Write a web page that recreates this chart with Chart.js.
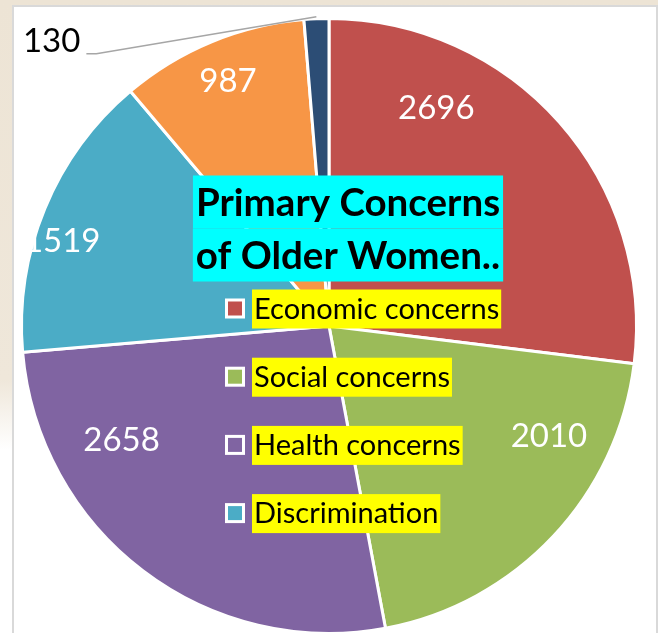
<!DOCTYPE html>
<html>
<head>
<meta charset="utf-8">
<script src="https://cdn.jsdelivr.net/npm/chart.js@4.4.0/dist/chart.umd.min.js"></script>
<style>
  html, body {
    margin: 0; padding: 0; width: 658px; height: 633px; overflow: hidden;
    background: linear-gradient(to bottom, #ede4d5 0px, #efe7da 380px, #ffffff 450px);
  }
  #frame {
    position: absolute; left: 12px; top: 5px; width: 646px; height: 700px;
    background: #fff; border: 2px solid #d9d9d9; box-sizing: border-box;
  }
  #chart { position: absolute; left: 0; top: 0; }
</style>
</head>
<body>
<div id="frame"></div>
<canvas id="chart" width="658" height="660"></canvas>
<script>
// pie data (slices go clockwise from 12 o'clock)
const categories = ['Economic concerns', 'Social concerns', 'Health concerns', 'Discrimination', 'Other concerns', 'Others'];
const values = [2696, 2010, 2658, 1519, 987, 130];
const colors = ['#C0504D', '#9BBB59', '#8064A2', '#4BACC6', '#F79646', '#2C4D75'];
const titleLines = ['Primary Concerns', 'of Older Women..'];
const legendCount = 4; // only the first four entries show in the legend

// where each value label sits: [fraction along the slice, fraction of radius]
// null = outside label with leader line
const labelSpots = [[0.27, 0.79], [0.27, 0.80], [0.75, 0.77], [0.41, 0.91], [0.5, 0.86], null];

const sliceLabels = {
  id: 'sliceLabels',
  afterDatasetsDraw(chart, args, opts) {
    const ctx = chart.ctx;
    const arcs = chart.getDatasetMeta(0).data;
    ctx.save();
    ctx.font = opts.font;
    ctx.textBaseline = 'middle';
    arcs.forEach((arc, i) => {
      const p = arc.getProps(['x', 'y', 'startAngle', 'endAngle', 'outerRadius'], true);
      const text = String(chart.data.datasets[0].data[i]);
      const spot = opts.spots[i];
      if (spot) {
        const a = p.startAngle + spot[0] * (p.endAngle - p.startAngle);
        const r = p.outerRadius * spot[1];
        ctx.fillStyle = '#fff';
        ctx.textAlign = 'center';
        ctx.fillText(text, p.x + Math.cos(a) * r, p.y + Math.sin(a) * r);
      } else {
        const a = (p.startAngle + p.endAngle) / 2;
        const ex = p.x + Math.cos(a) * (p.outerRadius + 2);
        const ey = p.y + Math.sin(a) * (p.outerRadius + 2);
        const lx = ex + opts.leader[0];
        const ly = ey + opts.leader[1];
        ctx.strokeStyle = '#a6a6a6';
        ctx.lineWidth = 1.5;
        ctx.beginPath();
        ctx.moveTo(ex, ey);
        ctx.lineTo(lx, ly);
        ctx.lineTo(lx - 10, ly);
        ctx.stroke();
        ctx.fillStyle = '#000';
        ctx.textAlign = 'right';
        ctx.fillText(text, lx - 16, ly - 12);
      }
    });
    ctx.restore();
  }
};

const overlay = {
  id: 'overlay',
  afterDraw(chart, args, o) {
    const ctx = chart.ctx;
    ctx.save();
    ctx.textBaseline = 'middle';
    // title with cyan highlight
    ctx.font = o.titleFont;
    ctx.textAlign = 'center';
    titleLines.forEach((line, i) => {
      const w = ctx.measureText(line).width + 6;
      const cy = o.titleY + i * o.titleLineH;
      ctx.fillStyle = '#00FFFF';
      ctx.fillRect(o.titleX - w / 2, cy - o.titleLineH / 2, w, o.titleLineH);
      ctx.fillStyle = '#000';
      ctx.fillText(line, o.titleX, cy + 2);
    });
    // legend with yellow highlight
    ctx.font = o.legendFont;
    ctx.textAlign = 'left';
    const ds = chart.data.datasets[0];
    for (let i = 0; i < legendCount; i++) {
      const cy = o.legendY + i * o.legendGap;
      ctx.fillStyle = '#fff';
      ctx.fillRect(o.legendX, cy - 10, 20, 20);
      ctx.fillStyle = ds.backgroundColor[i];
      ctx.fillRect(o.legendX + 3, cy - 7, 14, 14);
      const label = chart.data.labels[i];
      const tx = o.legendX + 27;
      const w = ctx.measureText(label).width + 4;
      ctx.fillStyle = '#FFFF00';
      ctx.fillRect(tx, cy - 19, w, 39);
      ctx.fillStyle = '#000';
      ctx.fillText(label, tx + 2, cy + 1);
    }
    ctx.restore();
  }
};

new Chart(document.getElementById('chart'), {
  type: 'pie',
  data: {
    labels: categories,
    datasets: [{
      data: values,
      backgroundColor: colors,
      borderColor: '#fff',
      borderWidth: 3
    }]
  },
  options: {
    responsive: false,
    animation: false,
    layout: { padding: { left: 20, right: 20, top: 17, bottom: 25 } },
    plugins: {
      legend: { display: false },
      tooltip: { enabled: false },
      sliceLabels: { font: '33px Lato', spots: labelSpots, leader: [-220, 37] },
      overlay: {
        titleFont: 'bold 38.5px Lato', titleX: 348, titleY: 202, titleLineH: 53,
        legendFont: '29px Lato', legendX: 225, legendY: 308.5, legendGap: 68.2
      }
    }
  },
  plugins: [sliceLabels, overlay]
});
</script>
</body>
</html>
